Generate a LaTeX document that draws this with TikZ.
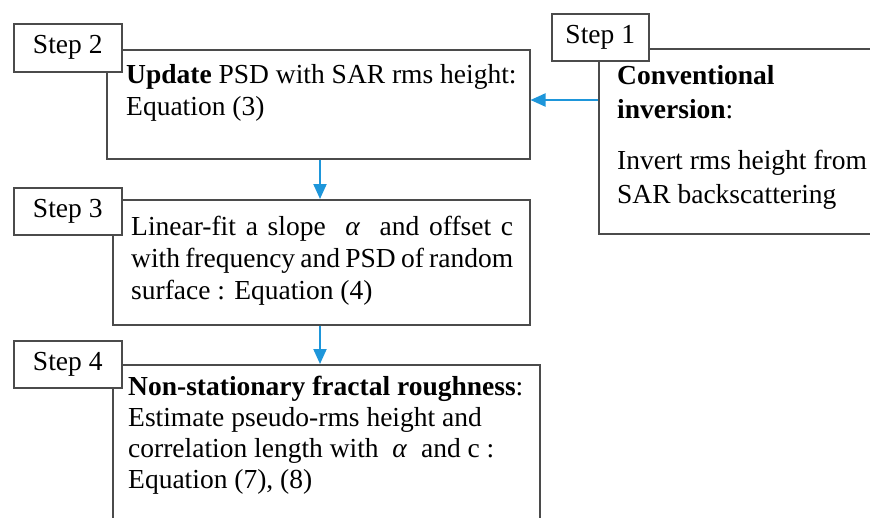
\documentclass[tikz,border=0pt]{standalone}
\usepackage{fontspec}
\setmainfont{Liberation Serif}
\usetikzlibrary{arrows.meta}
\definecolor{edgegray}{RGB}{75,75,75}
\definecolor{flowblue}{RGB}{30,150,218}
\tikzset{
  mainbox/.style={draw=edgegray, line width=1.5pt, fill=white, anchor=north west, inner sep=0pt},
  tagbox/.style={draw=edgegray, line width=1.5pt, fill=white, anchor=north west, inner sep=0pt,
    font=\fontsize{27.5}{32}\selectfont},
  bodytext/.style={anchor=north west, inner sep=0pt, align=left,
    font=\fontsize{27.5}{32}\selectfont},
  flow/.style={draw=flowblue, line width=2pt, -{Triangle[length=15pt,width=13pt]}}
}
\begin{document}
\begin{tikzpicture}[x=1pt,y=-1pt]
\useasboundingbox (0,0) rectangle (870,517);
\clip (0,0) rectangle (870,517);
\fill[white] (0,0) rectangle (870,517);

% main process boxes
\node[mainbox, minimum width=423pt, minimum height=109pt] (s2) at (106,49) {};
\node[mainbox, minimum width=320pt, minimum height=185pt] (s1) at (598,48) {};
\node[mainbox, minimum width=417pt, minimum height=125pt] (s3) at (112,199) {};
\node[mainbox, minimum width=427pt, minimum height=200pt] (s4) at (112,364) {};

% step tags drawn over the box corners
\node[tagbox, minimum width=108pt, minimum height=48pt] (t2) at (13,23) {Step 2};
\node[tagbox, minimum width=97pt, minimum height=47pt] (t1) at (551,13) {Step 1};
\node[tagbox, minimum width=108pt, minimum height=47pt] (t3) at (13,187) {Step 3};
\node[tagbox, minimum width=108pt, minimum height=47pt] (t4) at (13,340) {Step 4};

% box texts (strut top = baseline - 0.7 baselineskip)
\node[bodytext] (x2) at (126,60.6) {\strut\textbf{Update} PSD with SAR rms height:\\Equation (3)};
\node[bodytext, font=\fontsize{27.5}{34.5}\selectfont] (x1a) at (617,59.9) {\strut\textbf{Conventional}\\\textbf{inversion}:};
\node[bodytext, font=\fontsize{27.5}{34.5}\selectfont] (x1b) at (617,144.9) {\strut Invert rms height from\\SAR backscattering};
\node[bodytext, text width=382pt, align=justify] (x3) at (131,212.6)
  {\strut Linear-fit a slope \ \textit{α}\ \ and offset c\linebreak with frequency and PSD of random\linebreak surface : Equation (4)};
\node[bodytext, font=\fontsize{27.5}{31}\selectfont] (x4) at (128,373.3) {\strut\textbf{Non-stationary fractal roughness}:\\Estimate pseudo-rms height and\\correlation length with \ \textit{α}\ \ and c :\\Equation (7), (8)};

% connectors
\coordinate (ax) at (320,0);
\coordinate (ay) at (0,100);
\draw[flow] (s1.west |- ay) -- (s2.east |- ay);
\draw[flow] (s2.south -| ax) -- (s3.north -| ax);
\draw[flow] (s3.south -| ax) -- (s4.north -| ax);
\end{tikzpicture}
\end{document}
